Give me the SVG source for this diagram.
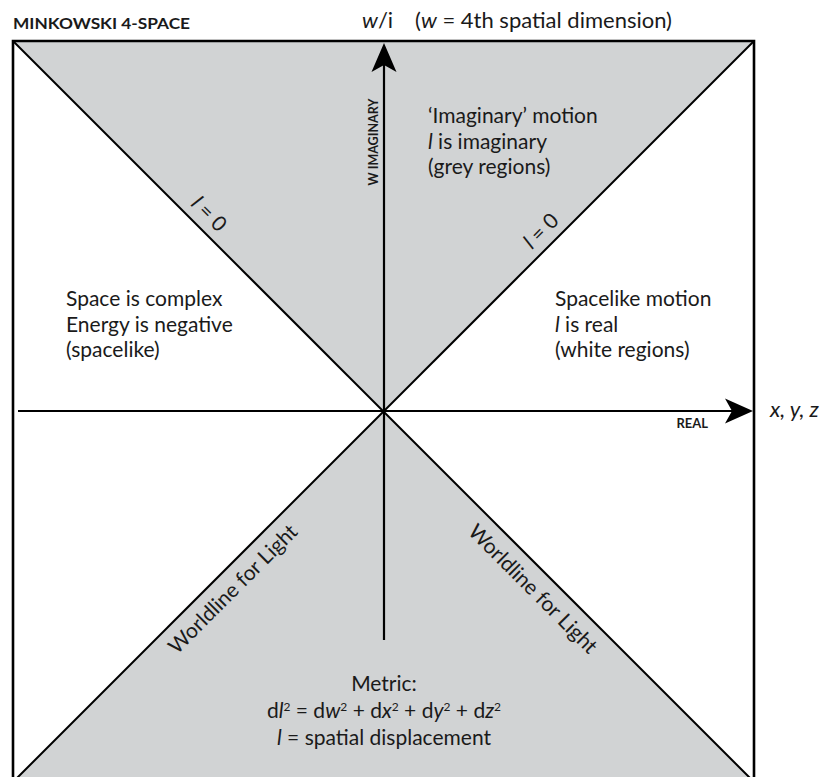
<svg xmlns="http://www.w3.org/2000/svg" width="822" height="777" viewBox="0 0 822 777">
<style>
text{font-family:Lato,"Open Sans","Liberation Sans",sans-serif;fill:#1a1a1a}
.t{font-size:21px}
.b{font-weight:700}
.i{font-style:italic}
.sup{font-size:12px}
.grey{fill:#d1d3d4;stroke:none}
.edge{fill:none;stroke:#000;stroke-width:2.6}
.diag{fill:none;stroke:#000;stroke-width:2}
.axis{fill:none;stroke:#000;stroke-width:2.2}
.head{fill:#000;stroke:none}
</style>
<rect width="822" height="777" fill="#fff"/>
<g id="regions">
<polygon class="grey" points="13,41 754,41 383.5,411.5"/>
<polygon class="grey" points="383.5,411.5 13,782 754,782"/>
</g>
<g id="frame">
<polyline class="edge" points="13,790 13,41 754,41 754,790"/>
</g>
<g id="connectors">
<line class="diag" x1="13" y1="41" x2="754" y2="782"/>
<line class="diag" x1="754" y1="41" x2="13" y2="782"/>
<line class="axis" x1="384" y1="640" x2="384" y2="60"/>
<path class="head" d="M384,43 L396.5,72 L384,65 L371.5,72 Z"/>
<line class="axis" x1="18" y1="411" x2="740" y2="411"/>
<path class="head" d="M753,411 L725,398.5 L732,411 L725,423.5 Z"/>
</g>
<g id="title">
<text class="b" x="13" y="29" font-size="15.5" textLength="177" lengthAdjust="spacingAndGlyphs">MINKOWSKI 4-SPACE</text>
</g>
<g id="w-axis-label">
<text x="362" y="28" font-size="22"><tspan class="i">w</tspan>/i<tspan x="415">(<tspan class="i">w</tspan> = 4th spatial dimension)</tspan></text>
<text class="b" font-size="12.5" transform="translate(378,142) rotate(-90)" text-anchor="middle">W IMAGINARY</text>
</g>
<g id="x-axis-label">
<text class="b" x="708" y="428" font-size="13" text-anchor="end">REAL</text>
<text class="i" x="770" y="417" font-size="22">x, y, z</text>
</g>
<g id="imaginary-region">
<text class="t" x="428" y="123">‘Imaginary’ motion<tspan x="428" dy="25.5"><tspan class="i">l</tspan> is imaginary</tspan><tspan x="428" dy="25.5">(grey regions)</tspan></text>
</g>
<g id="left-region">
<text class="t" x="66" y="306">Space is complex<tspan x="66" dy="25.5">Energy is negative</tspan><tspan x="66" dy="25.5">(spacelike)</tspan></text>
</g>
<g id="right-region">
<text class="t" x="555" y="306">Spacelike motion<tspan x="555" dy="25.5"><tspan class="i">l</tspan> is real</tspan><tspan x="555" dy="25.5">(white regions)</tspan></text>
</g>
<g id="light-cone-labels">
<text class="t" text-anchor="middle" transform="translate(204,219) rotate(45)"><tspan class="i">l</tspan> = 0</text>
<text class="t" text-anchor="middle" transform="translate(546,236) rotate(-45)"><tspan class="i">l</tspan> = 0</text>
<text class="t" text-anchor="middle" transform="translate(238,594) rotate(-45)">Worldline for Light</text>
<text class="t" text-anchor="middle" transform="translate(528,594) rotate(45)">Worldline for Light</text>
</g>
<g id="metric">
<text class="t" x="384" y="691" text-anchor="middle">Metric:<tspan x="384" dy="27">d<tspan class="i">l</tspan><tspan class="sup" baseline-shift="super">2</tspan> = d<tspan class="i">w</tspan><tspan class="sup" baseline-shift="super">2</tspan> + d<tspan class="i">x</tspan><tspan class="sup" baseline-shift="super">2</tspan> + d<tspan class="i">y</tspan><tspan class="sup" baseline-shift="super">2</tspan> + d<tspan class="i">z</tspan><tspan class="sup" baseline-shift="super">2</tspan></tspan><tspan x="384" dy="27"><tspan class="i">l</tspan> = spatial displacement</tspan></text>
</g>
</svg>
